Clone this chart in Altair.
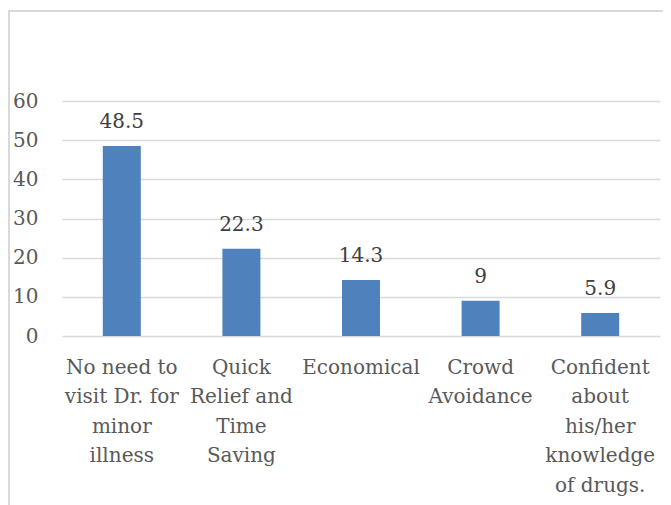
import altair as alt
import pandas as pd

categories = [
    "No need to|visit Dr. for|minor|illness",
    "Quick|Relief and|Time|Saving",
    "Economical",
    "Crowd|Avoidance",
    "Confident|about|his/her|knowledge|of drugs.",
]
values = [48.5, 22.3, 14.3, 9, 5.9]
y_ticks = [0, 10, 20, 30, 40, 50, 60]

df = pd.DataFrame({"cat": categories, "val": values})

FONT = "DejaVu Serif"
W, H = 598, 235

x_enc = alt.X(
    "cat:N",
    sort=None,
    title=None,
    scale=alt.Scale(paddingInner=0, paddingOuter=0),
    axis=alt.Axis(
        labelExpr="split(datum.label, '|')",
        labelAngle=0,
        labelFont=FONT,
        labelFontSize=20,
        labelColor="#595959",
        labelLineHeight=29.5,
        labelBaseline="top",
        labelPadding=21,
        domain=False,
        ticks=False,
        grid=False,
        labelLimit=200,
        labelOverlap=False,
    ),
)
y_enc = alt.Y(
    "val:Q",
    title=None,
    scale=alt.Scale(domain=[0, 60], nice=False),
    axis=alt.Axis(
        values=y_ticks,
        tickCount=7,
        labelFont=FONT,
        labelFontSize=20,
        labelColor="#595959",
        labelPadding=24,
        labelOverlap=False,
        domain=False,
        ticks=False,
        grid=True,
        gridColor="#d9d9d9",
        gridWidth=1.5,
    ),
)

frame = alt.Chart(df).mark_rect(
    fillOpacity=0, stroke="#d9d9d9", strokeWidth=1.5
).encode(
    x=alt.value(-53), x2=alt.value(700), y=alt.value(-90), y2=alt.value(600)
)

bars = alt.Chart(df).mark_bar(size=38, color="#4f81bd").encode(x=x_enc, y=y_enc)

labels = alt.Chart(df).mark_text(
    font=FONT, fontSize=20, color="#404040", baseline="alphabetic", dy=-18
).encode(x=x_enc, y=y_enc, text="val:Q")

chart = alt.layer(frame, bars, labels).properties(
    width=W,
    height=H,
    padding={"left": 54, "top": 93, "right": 3, "bottom": 169},
    autosize=alt.AutoSizeParams(type="none"),
).configure_view(stroke=None)

chart.save("out.html", embed_options={"renderer": "svg", "actions": False})
